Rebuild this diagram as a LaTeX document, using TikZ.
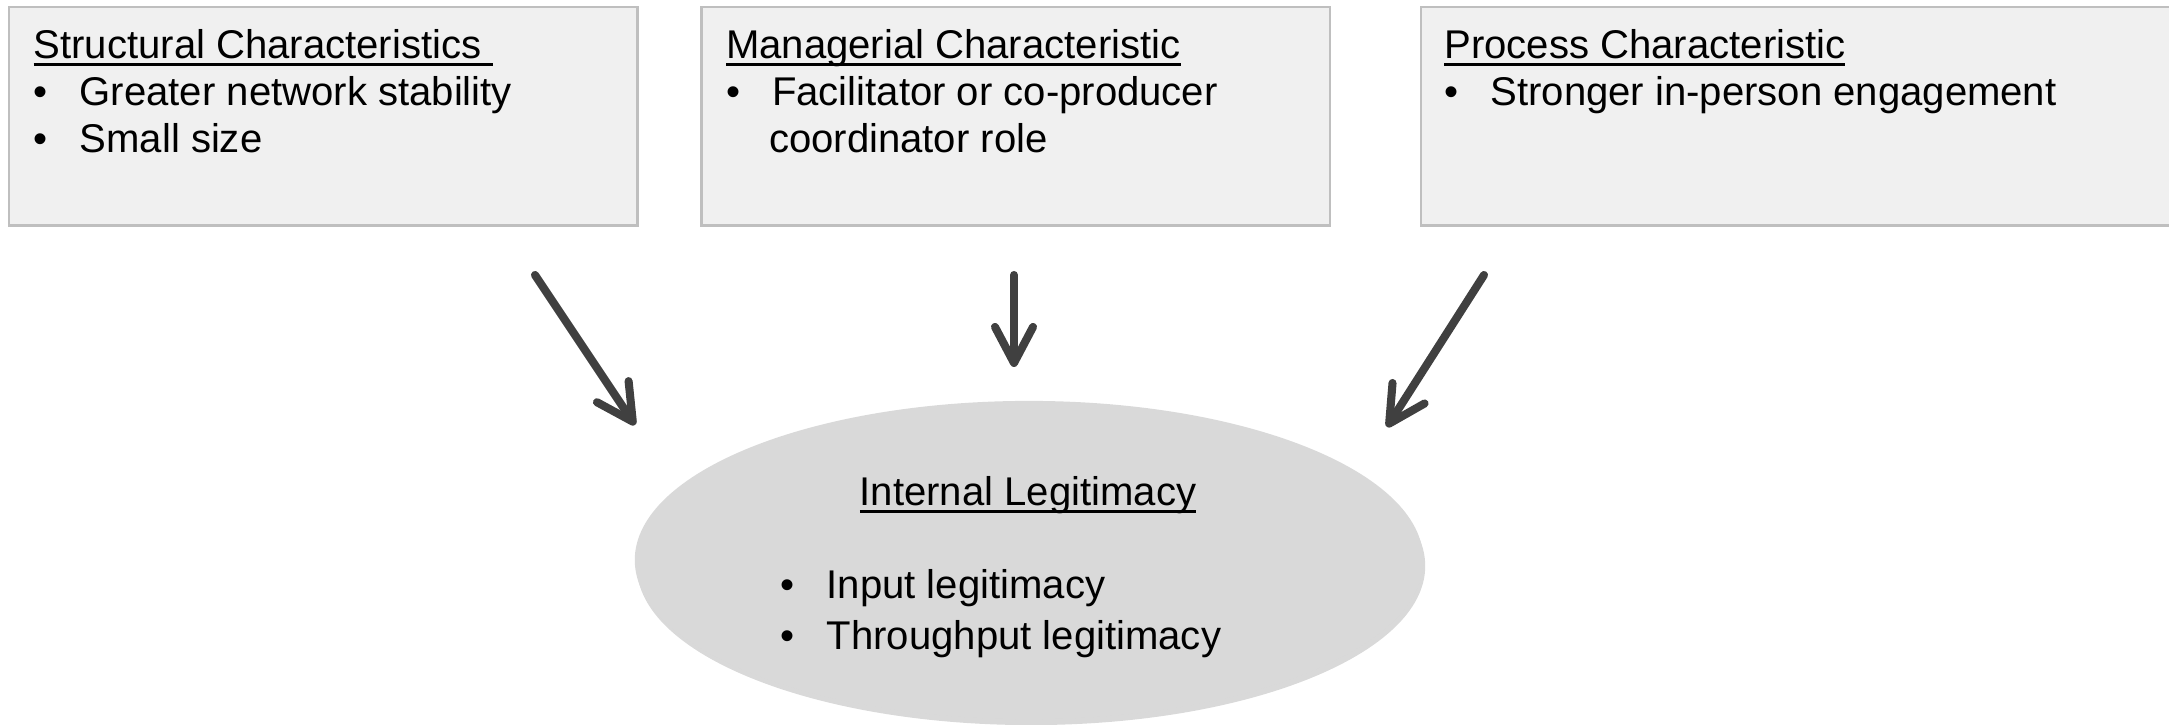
\documentclass[tikz,border=0pt]{standalone}
\usepackage{fontspec}
\setmainfont{Liberation Sans}
\usetikzlibrary{positioning,shapes,shadows,arrows.meta}
\definecolor{boxfill}{HTML}{F0F0F0}
\definecolor{boxline}{HTML}{BFBFBF}
\definecolor{ovalfill}{HTML}{D9D9D9}
\definecolor{arrowgray}{HTML}{404040}
\newcommand{\ulhead}[1]{\setbox0\hbox{#1}\rlap{\rule[-2.1pt]{\wd0}{0.85pt}}\box0}
\newcommand{\bitem}[1]{\makebox[0.46cm][l]{\textbullet}#1}

\begin{document}
\begin{tikzpicture}[
x=0.01cm,y=-0.01cm,
every node/.style={font=\fontsize{11.4}{13.4}\selectfont},
charbox/.style={draw=boxline,line width=0.7pt,fill=boxfill,
  minimum height=2.18cm,inner sep=0pt,anchor=north west,
  drop shadow={shadow xshift=0.015cm,shadow yshift=-0.015cm,opacity=0.15}},
boxtext/.style={anchor=north west,align=left,inner sep=0pt},
oval/.style={ellipse,fill=ovalfill,inner sep=0pt,
  minimum width=7.88cm,minimum height=3.18cm,
  drop shadow={shadow xshift=0.02cm,shadow yshift=-0.06cm,opacity=0.3}},
flowarrow/.style={draw=arrowgray,line width=2.3pt,line cap=round,
  -{Straight Barb[length=3.6mm,width=3.8mm,round]}},
]

\clip (0,0) rectangle (2169,725);

\node[charbox,minimum width=6.28cm] (struct) at (8,6) {};
\node[charbox,minimum width=6.28cm,right=0.615cm of struct.north east,anchor=north west] (manag) {};
\node[charbox,minimum width=8.00cm,right=0.885cm of manag.north east,anchor=north west] (proc) {};

\node[boxtext] (struct-txt) at ([shift={(25,19)}]struct.north west)
  {\strut\ulhead{Structural Characteristics }\\
   \bitem{Greater network stability}\\
   \bitem{Small size}};
\node[boxtext] (manag-txt) at ([shift={(25,19)}]manag.north west)
  {\strut\ulhead{Managerial Characteristic}\\
   \bitem{Facilitator or co-producer}\\
   \hspace*{0.43cm}coordinator role};
\node[boxtext] (proc-txt) at ([shift={(24,19)}]proc.north west)
  {\strut\ulhead{Process Characteristic}\\
   \bitem{Stronger in-person engagement}};

\node[oval] (legit) at (1029,560) {};
\node[anchor=north,inner sep=0pt] (legit-head) at (1028,472)
  {\strut\ulhead{Internal Legitimacy}};
\node[boxtext] (legit-list) at (780,565)
  {\strut\bitem{Input legitimacy}\\[0.04cm]
   \bitem{Throughput legitimacy}};

\coordinate (s1) at (535,275);
\coordinate (e1) at (635,425);
\coordinate (s2) at (1014,275);
\coordinate (e2) at (1014,367);
\coordinate (s3) at (1484,275);
\coordinate (e3) at (1387,427);

\draw[flowarrow] (s1) -- (e1);
\draw[flowarrow] (s2) -- (e2);
\draw[flowarrow] (s3) -- (e3);

\end{tikzpicture}
\end{document}
